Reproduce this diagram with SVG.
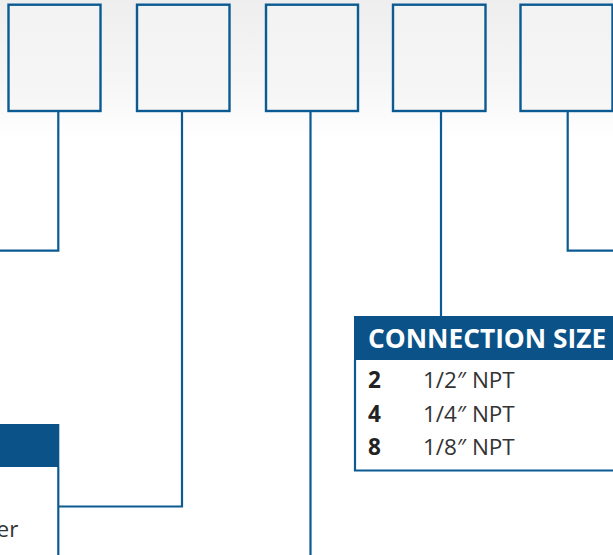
<svg xmlns="http://www.w3.org/2000/svg" width="613" height="555" viewBox="0 0 613 555">
<defs>
<linearGradient id="bg" x1="0" y1="0" x2="0" y2="1">
<stop offset="0" stop-color="#eeeeee"/>
<stop offset="0.6" stop-color="#f6f6f6"/>
<stop offset="1" stop-color="#ffffff"/>
</linearGradient>
<style>
.box{fill:#f5f5f5;fill-opacity:0.6;stroke:#0c5a92;stroke-width:2.4}
.wire{fill:none;stroke:#0c5a92;stroke-width:2.2}
.hdr{fill:#0a5287}
.border{fill:none;stroke:#0c5a92;stroke-width:2.2}
.htxt{font-family:"Open Sans","DejaVu Sans",sans-serif;font-weight:bold;font-size:26.3px;fill:#ffffff}
.num{font-family:"Open Sans","DejaVu Sans",sans-serif;font-weight:bold;font-size:22.5px;fill:#222222}
.txt{font-family:"Open Sans","DejaVu Sans",sans-serif;font-size:22.5px;fill:#333333}
</style>
</defs>
<rect x="0" y="0" width="613" height="140" fill="url(#bg)"/>
<rect x="0" y="140" width="613" height="415" fill="#ffffff"/>
<g id="connectors">
<polyline class="wire" points="58.3,111 58.3,250.7 0,250.7"/>
<polyline class="wire" points="182,111 182,506.5 58.3,506.5"/>
<polyline class="wire" points="310.5,111 310.5,555"/>
<polyline class="wire" points="441,111 441,316"/>
<polyline class="wire" points="567.7,111 567.7,250.7 613,250.7"/>
</g>
<g id="box1"><rect class="box" x="8.5" y="4.7" width="92" height="106.3"/></g>
<g id="box2"><rect class="box" x="137" y="4.7" width="92.5" height="106.3"/></g>
<g id="box3"><rect class="box" x="266" y="4.7" width="92" height="106.3"/></g>
<g id="box4"><rect class="box" x="393" y="4.7" width="92.5" height="106.3"/></g>
<g id="box5"><rect class="box" x="520.5" y="4.7" width="92" height="106.3"/></g>
<g id="left-table">
<rect class="hdr" x="-2" y="424" width="61.3" height="43"/>
<line class="border" x1="58.3" y1="467" x2="58.3" y2="555"/>
<text class="txt" x="-3.5" y="537">er</text>
</g>
<g id="connection-size">
<rect class="hdr" x="354" y="316" width="260" height="44"/>
<polyline class="border" points="355,360 355,470.5 614,470.5"/>
<text class="htxt" x="368" y="348">CONNECTION SIZE</text>
<text class="num" x="368" y="388">2</text>
<text class="txt" x="423" y="388">1/2″ NPT</text>
<text class="num" x="368" y="421.5">4</text>
<text class="txt" x="423" y="421.5">1/4″ NPT</text>
<text class="num" x="368" y="455">8</text>
<text class="txt" x="423" y="455">1/8″ NPT</text>
</g>
</svg>
